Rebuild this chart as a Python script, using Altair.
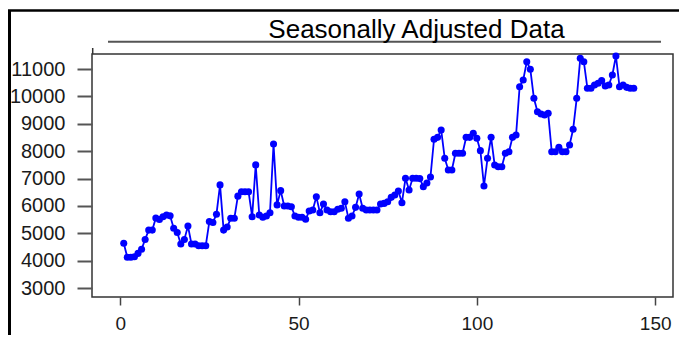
import altair as alt
import pandas as pd

obs = list(range(1, 145))
values = [
    4640, 4130, 4130, 4150, 4270, 4420, 4780, 5120, 5120, 5560,
    5510, 5610, 5670, 5640, 5190, 5030, 4610, 4780, 5270, 4610,
    4610, 4550, 4550, 4550, 5430, 5400, 5700, 6770, 5120, 5230,
    5550, 5550, 6360, 6520, 6520, 6520, 5610, 7500, 5670, 5590,
    5635, 5755, 8260, 6040, 6560, 6000, 6000, 5975, 5635, 5590,
    5590, 5515, 5815, 5855, 6340, 5755, 6070, 5855, 5790, 5790,
    5880, 5915, 6155, 5550, 5635, 5950, 6440, 5915, 5855, 5855,
    5855, 5855, 6070, 6095, 6155, 6315, 6400, 6545, 6120, 7010,
    6585, 7010, 7010, 7000, 6705, 6840, 7060, 8435, 8505, 8775,
    7740, 7315, 7315, 7925, 7925, 7925, 8505, 8505, 8655, 8470,
    8020, 6730, 7740, 8505, 7495, 7435, 7435, 7925, 7980, 8505,
    8590, 10355, 10600, 11265, 10990, 9930, 9440, 9355, 9320, 9385,
    7980, 7980, 8140, 7980, 7980, 8225, 8800, 9930, 11390, 11265,
    10295, 10295, 10415, 10480, 10575, 10380, 10415, 10780, 11475, 10355,
    10415, 10330, 10295, 10295,
]

x_ticks = [0, 50, 100, 150]
y_ticks = [3000, 4000, 5000, 6000, 7000, 8000, 9000, 10000, 11000]
title_text = ["Seasonally Adjusted Data"]

df = pd.DataFrame({"obs": obs, "value": values})
FONT = "Liberation Sans"
BLUE = "#0000FF"

x_enc = alt.X(
    "obs:Q",
    scale=alt.Scale(domain=[-7.9, 155], nice=False, zero=False),
    axis=alt.Axis(
        values=x_ticks, grid=False, domain=False, title=None,
        tickSize=8, tickColor="#444444", tickWidth=1.5,
        labelFont=FONT, labelFontSize=19, labelColor="#1a1a1a",
        labelPadding=9, format="d",
    ),
)
y_enc = alt.Y(
    "value:Q",
    scale=alt.Scale(domain=[2678, 11548], nice=False, zero=False),
    axis=alt.Axis(
        values=y_ticks, grid=False, domain=False, title=None,
        tickSize=15, tickColor="#555555", tickWidth=2,
        labelFont=FONT, labelFontSize=20, labelColor="#1a1a1a",
        labelPadding=12, format="d",
    ),
)

base = alt.Chart(df)
line = base.mark_line(color=BLUE, strokeWidth=1.8).encode(x=x_enc, y=y_enc)
points = base.mark_circle(color=BLUE, size=50, opacity=1).encode(x=x_enc, y=y_enc)

one = pd.DataFrame({"label": title_text})
title = alt.Chart(one).mark_text(
    font=FONT, fontSize=26, color="#000000", align="center", baseline="alphabetic"
).encode(text="label:N", x=alt.value(324.5), y=alt.value(-16.5))

def rule(x1, x2, y1, y2, color, width):
    return alt.Chart(one).mark_rule(color=color, strokeWidth=width).encode(
        x=alt.value(x1), x2=alt.value(x2), y=alt.value(y1), y2=alt.value(y2)
    )

title_line = rule(16, 569, -12.3, -12.3, "#555555", 2)
stub = rule(0.7, 0.7, -6, 0, "#333333", 1.5)
frame_left = rule(-82.5, -82.5, -43.5, 290, "#000000", 3)
frame_top = rule(-84, 600, -43.5, -43.5, "#000000", 2.5)

chart = alt.layer(
    frame_left, frame_top, title_line, stub, line, points, title
).properties(
    width=581, height=243,
    autosize=alt.AutoSizeParams(type="none"),
    padding={"left": 84, "top": 46, "right": 6, "bottom": 38},
).configure_view(stroke="#333333", strokeWidth=1.5)

chart.save("out.html", embed_options={"renderer": "svg", "actions": False})
